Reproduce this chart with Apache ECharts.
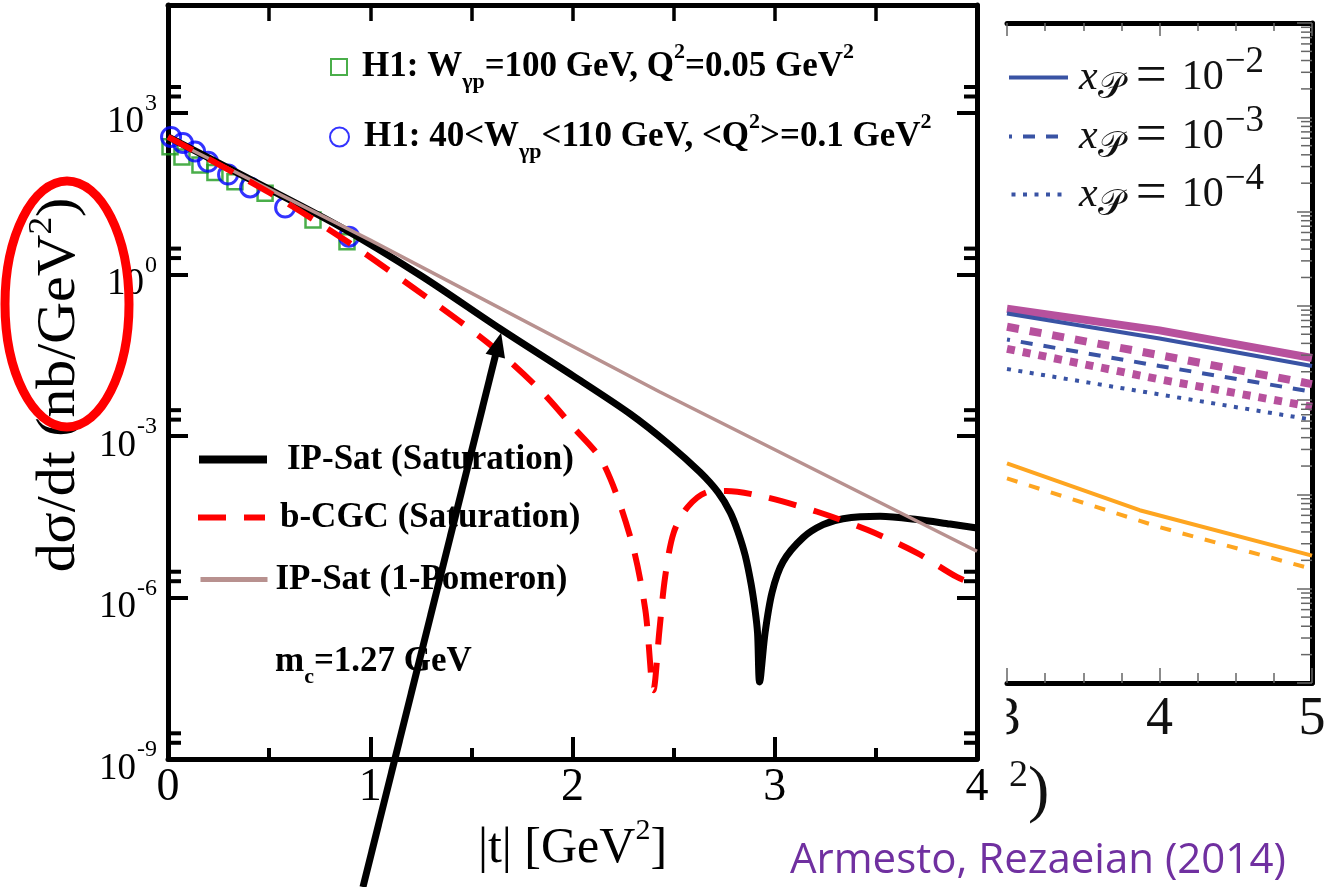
<!DOCTYPE html>
<html>
<head>
<meta charset="utf-8">
<script src="https://cdn.jsdelivr.net/npm/echarts@6/dist/echarts.min.js"></script>
<style>
  html, body { margin: 0; padding: 0; background: #fff; }
  #c { width: 1330px; height: 887px; }
</style>
</head>
<body>
<div id="c"></div>
<script>
// ---- exclusive J/psi photoproduction: d sigma / dt versus |t| ----
// H1 data, W = 100 GeV, Q^2 = 0.05 GeV^2
const h1aT     = [0.01, 0.069, 0.158, 0.232, 0.331, 0.48, 0.717, 0.885];
const h1aSigma = [234, 151, 107, 78, 52, 32, 10.2, 4.0];
// H1 data, 40 < W < 110 GeV, <Q^2> = 0.1 GeV^2
const h1bT     = [0.015, 0.074, 0.134, 0.198, 0.297, 0.406, 0.579, 0.895];
const h1bSigma = [355, 275, 190, 123, 71, 41, 17.4, 5.0];

// IP-Sat (Saturation)
const ipSatT     = [0, 0.43, 0.851, 1.251, 1.642, 2.003, 2.285, 2.483, 2.631, 2.72, 2.78, 2.819, 2.854, 2.883, 2.903, 2.915, 2.925, 2.952, 2.987, 3.041, 3.14, 3.239, 3.338, 3.521, 3.704, 3.867, 4.0];
const ipSatSigma = [358, 51.9, 7.63, 0.938, 0.0973, 0.0130, 2.56e-3, 6.67e-4, 2.10e-4, 8.9e-5, 3.8e-5, 1.62e-5, 6.0e-6, 1.78e-6, 5.7e-7, 2.18e-7, 2.7e-8, 2.18e-7, 1.26e-6, 4.6e-6, 1.29e-5, 2.24e-5, 2.9e-5, 3.2e-5, 2.8e-5, 2.3e-5, 1.95e-5];

// b-CGC (Saturation)
const bcgcT     = [0, 0.5, 0.85, 1.18, 1.58, 1.84, 2.0, 2.15, 2.29, 2.36, 2.40, 2.43, 2.458, 2.5, 2.57, 2.67, 2.76, 2.96, 3.21, 3.46, 3.7, 3.9, 4.0];
const bcgcSigma = [355, 33, 5.0, 0.69, 0.054, 0.0071, 1.5e-3, 3.2e-4, 1.17e-5, 5.9e-7, 1.9e-8, 2.5e-7, 2.4e-6, 1.58e-5, 4.8e-5, 9.1e-5, 9.5e-5, 7.2e-5, 3.9e-5, 1.78e-5, 6.8e-6, 2.4e-6, 1.7e-6];

// IP-Sat (1-Pomeron)
const pomT     = [0, 1.0, 2.43, 4.0];
const pomSigma = [340, 4.3, 6.6e-3, 7.2e-6];

// main-plot axis ticks
const tMainTicks    = [0, 1, 2, 3, 4];
const yMainLabelExp = [-9, -6, -3, 0, 3];
const yMainMinor    = [2e-9, 3e-9, 2e-6, 3e-6, 2e-3, 3e-3, 2, 3, 2e3, 3e3];

// ---- second panel: x_P dependence at large |t| ----
const tRight = [3, 4, 5];
const blueSolid   = [8.3e-4, 4.5e-4, 2.3e-4];
const blueDashed  = [4.4e-4, 2.3e-4, 1.23e-4];
const blueDotted  = [2.14e-4, 1.15e-4, 6.2e-5];
const pinkSolid   = [9.3e-4, 5.5e-4, 2.8e-4];
const pinkDashed  = [6.0e-4, 3.0e-4, 1.48e-4];
const pinkDotted  = [3.5e-4, 1.66e-4, 8.5e-5];
const orangeSolidT = [3, 3.87, 5];
const orangeSolid  = [2.14e-5, 6.8e-6, 2.24e-6];
const orangeDashed = [1.48e-5, 4.5e-6, 1.62e-6];
const xPExps = ['\u22122', '\u22123', '\u22124'];
const rightDecades = [1e-7, 1e-6, 1e-5, 1e-4, 1e-3, 1e-2, 1e-1];
const logMinorMultipliers = [2, 3, 4, 5, 6, 7, 8, 9];

// annotation arrow (data coordinates of tail and tip)
const arrowTail = [0.964, 4.2e-12];
const arrowTip  = [1.647, 0.0818];

const SERIF = "'Liberation Serif', 'Times New Roman', serif";
const zip = (xs, ys) => xs.map((x, i) => [x, ys[i]]);

const NAME_A = 'H1 W=100';
const NAME_B = 'H1 40<W<110';
const NAME_IPSAT = 'IP-Sat (Saturation)';
const NAME_BCGC = 'b-CGC (Saturation)';
const NAME_POM = 'IP-Sat (1-Pomeron)';
const NAME_X2 = 'xP=1e-2', NAME_X3 = 'xP=1e-3', NAME_X4 = 'xP=1e-4';

const boldTok = (pad) => ({ fontFamily: SERIF, fontWeight: 'bold', fontSize: 35, lineHeight: 40, color: '#000', padding: pad });
const boldRich = {
  b:  boldTok([0, 0, 0, 0]),
  bl: boldTok([0, 0, 0, 10]),
  p15: boldTok([0, 0, 0, 15]),
  p10: boldTok([0, 0, 0, 10]),
  p3: boldTok([0, 0, 0, 3]),
  sub:{ fontFamily: SERIF, fontWeight: 'bold', fontSize: 22, lineHeight: 24, color: '#000', padding: [30, 0, 0, 0] },
  sup:{ fontFamily: SERIF, fontWeight: 'bold', fontSize: 22, lineHeight: 24, color: '#000', padding: [0, 0, 30, 0] }
};

const mathRich = {
  i:  { fontFamily: SERIF, fontStyle: 'italic', fontSize: 42, lineHeight: 44, color: '#111', padding: [0, 0, 0, 6] },
  s:  { fontFamily: "'DejaVu Sans', 'DejaVu Serif', serif", fontSize: 36, lineHeight: 36, color: '#111', padding: [22, 0, 0, 0] },
  eq: { fontFamily: SERIF, fontSize: 55, lineHeight: 44, color: '#111', padding: [0, 15, 0, 12] },
  n:  { fontFamily: SERIF, fontSize: 42, lineHeight: 44, color: '#111' },
  e:  { fontFamily: SERIF, fontSize: 37, lineHeight: 34, color: '#111', padding: [0, 0, 30, 1] }
};
const xPLabel = k => '{i|x}{s|\ud835\udcab}{eq|=}{n|10}{e|' + xPExps[k] + '}';

const noSymbol = { color: 'rgba(0,0,0,0)', borderColor: 'rgba(0,0,0,0)', borderWidth: 0 };
const legendBase = { orient: 'horizontal', padding: 0, itemGap: 0, selectedMode: false };

function mainMinorTicks(params, api) {
  const v = api.value(1);
  const pL = api.coord([0, v]);
  const pR = api.coord([4, v]);
  const st = { stroke: '#000', lineWidth: 4 };
  return { type: 'group', children: [
    { type: 'line', shape: { x1: pL[0], y1: pL[1], x2: pL[0] + 13, y2: pL[1] }, style: st },
    { type: 'line', shape: { x1: pR[0], y1: pR[1], x2: pR[0] - 13, y2: pR[1] }, style: st }
  ]};
}
function rightMinorTicks(params, api) {
  const v = api.value(1);
  const p = api.coord([5, v]);
  return { type: 'line', shape: { x1: p[0], y1: p[1], x2: p[0] - 11, y2: p[1] }, style: { stroke: '#666', lineWidth: 1.5 } };
}
const rightMinorData = [];
rightDecades.forEach(d => logMinorMultipliers.forEach(m => rightMinorData.push([5, d * m])));

const blue = '#3953a4', pink = '#b7519d', orange = '#fea520';

const option = {
  backgroundColor: '#fff',
  animation: false,
  grid: [
    { left: 168, top: 5, width: 809, height: 754 },
    { left: 1007, top: 23, width: 305, height: 660 }
  ],
  xAxis: [
    { gridIndex: 0, type: 'value', min: 0, max: 4, interval: 1, position: 'bottom',
      axisLine: { onZero: false, lineStyle: { color: '#000', width: 5 } },
      axisTick: { inside: true, length: 22, lineStyle: { color: '#000', width: 4 } },
      minorTick: { show: true, splitNumber: 2, length: 11, lineStyle: { color: '#000', width: 4 } },
      splitLine: { show: false },
      axisLabel: { fontFamily: SERIF, fontSize: 46, color: '#000', margin: 6,
        formatter: v => (tMainTicks.indexOf(v) >= 0 ? String(v) : '') },
      name: '{b||t| [GeV}{s|2}{b|]}', nameLocation: 'middle', nameGap: 52,
      nameTextStyle: { rich: {
        b: { fontFamily: SERIF, fontSize: 50, lineHeight: 52, color: '#000' },
        s: { fontFamily: SERIF, fontSize: 30, lineHeight: 30, color: '#000', padding: [0, 0, 36, 0] } } } },
    { gridIndex: 0, type: 'value', min: 0, max: 4, interval: 0.5, position: 'top',
      axisLine: { onZero: false, lineStyle: { color: '#000', width: 5 } },
      axisTick: { inside: true, length: 16, lineStyle: { color: '#000', width: 3.5 } },
      axisLabel: { show: false }, splitLine: { show: false } },
    { gridIndex: 1, type: 'value', min: 3, max: 5, interval: 1, position: 'bottom',
      axisLine: { onZero: false, lineStyle: { color: '#000', width: 5 } },
      axisTick: { inside: true, length: 15, lineStyle: { color: '#666', width: 1.5 } },
      minorTick: { show: true, splitNumber: 4, length: 10, lineStyle: { color: '#666', width: 1.5 } },
      axisLabel: { fontFamily: SERIF, fontSize: 54, color: '#111', margin: 10 },
      splitLine: { show: false } },
    { gridIndex: 1, type: 'value', min: 3, max: 5, interval: 1, position: 'top',
      axisLine: { onZero: false, lineStyle: { color: '#000', width: 5 } },
      axisTick: { inside: true, length: 13, lineStyle: { color: '#666', width: 1.5 } },
      minorTick: { show: true, splitNumber: 4, length: 8, lineStyle: { color: '#666', width: 1.5 } },
      axisLabel: { show: false }, splitLine: { show: false } }
  ],
  yAxis: [
    { gridIndex: 0, type: 'log', logBase: 10, min: 1e-9, max: 1e5, interval: 3, position: 'left',
      axisLine: { onZero: false, lineStyle: { color: '#000', width: 5 } },
      axisTick: { inside: true, length: 20, lineStyle: { color: '#000', width: 4 } },
      splitLine: { show: false },
      axisLabel: { margin: 11, padding: [20, 0, 0, 0],
        formatter: v => {
          const l = Math.log10(v), e = Math.round(l);
          return (Math.abs(l - e) < 1e-6 && yMainLabelExp.indexOf(e) >= 0) ? '{b|10}{e|' + e + '}' : '';
        },
        rich: {
          b: { fontFamily: SERIF, fontSize: 37, lineHeight: 36, color: '#000' },
          e: { fontFamily: SERIF, fontSize: 24, lineHeight: 24, color: '#000', padding: [0, 0, 38, 1] }
        } } },
    { gridIndex: 0, type: 'log', logBase: 10, min: 1e-9, max: 1e5, interval: 3, position: 'right',
      axisLine: { onZero: false, lineStyle: { color: '#000', width: 5 } },
      axisTick: { inside: true, length: 20, lineStyle: { color: '#000', width: 4 } },
      axisLabel: { show: false }, splitLine: { show: false } },
    { gridIndex: 1, type: 'log', logBase: 10, min: 1e-7, max: 1, interval: 1, position: 'right',
      axisLine: { onZero: false, lineStyle: { color: '#000', width: 5 } },
      axisTick: { inside: true, length: 15, lineStyle: { color: '#666', width: 1.5 } },
      axisLabel: { show: false }, splitLine: { show: false } }
  ],
  legend: [
    Object.assign({}, legendBase, { data: [NAME_A], left: 330, top: 41, itemWidth: 16, itemHeight: 16,
      formatter: () => '{bl|H1: W}{sub|\u03b3p}{b|=100 GeV, Q}{sup|2}{b|=0.05 GeV}{sup|2}',
      textStyle: { rich: boldRich } }),
    Object.assign({}, legendBase, { data: [NAME_B], left: 329, top: 111, itemWidth: 19, itemHeight: 19,
      formatter: () => '{bl|H1: 40<W}{sub|\u03b3p}{b|<110 GeV, <Q}{sup|2}{b|>=0.1 GeV}{sup|2}',
      textStyle: { rich: boldRich } }),
    Object.assign({}, legendBase, { data: [NAME_IPSAT], left: 195, top: 442, itemWidth: 68, itemHeight: 14,
      itemStyle: noSymbol, lineStyle: { width: 8 },
      formatter: n => '{p15|' + n + '}', textStyle: { rich: boldRich } }),
    Object.assign({}, legendBase, { data: [NAME_BCGC], left: 195, top: 500, itemWidth: 67, itemHeight: 14,
      itemStyle: noSymbol, lineStyle: { width: 6 },
      formatter: n => '{p10|' + n + '}', textStyle: { rich: boldRich } }),
    Object.assign({}, legendBase, { data: [NAME_POM], left: 198, top: 562, itemWidth: 67, itemHeight: 14,
      itemStyle: noSymbol, lineStyle: { width: 5 },
      formatter: n => '{p3|' + n + '}', textStyle: { rich: boldRich } }),
    Object.assign({}, legendBase, { data: [NAME_X2], left: 1007, top: 44, itemWidth: 59, itemHeight: 10,
      itemStyle: noSymbol, lineStyle: { width: 4 },
      formatter: () => xPLabel(0), textStyle: { rich: mathRich } }),
    Object.assign({}, legendBase, { data: [NAME_X3], left: 1007, top: 103, itemWidth: 59, itemHeight: 10,
      itemStyle: noSymbol, lineStyle: { width: 4 },
      formatter: () => xPLabel(1), textStyle: { rich: mathRich } }),
    Object.assign({}, legendBase, { data: [NAME_X4], left: 1007, top: 161, itemWidth: 59, itemHeight: 10,
      itemStyle: noSymbol, lineStyle: { width: 4 },
      formatter: () => xPLabel(2), textStyle: { rich: mathRich } })
  ],
  series: [
    { name: NAME_A, type: 'scatter', xAxisIndex: 0, yAxisIndex: 0, symbol: 'rect', symbolSize: 15,
      itemStyle: { color: 'rgba(255,255,255,0)', borderColor: '#1d9a1d', borderWidth: 2.5 },
      data: zip(h1aT, h1aSigma), z: 2 },
    { name: NAME_B, type: 'scatter', xAxisIndex: 0, yAxisIndex: 0, symbol: 'circle', symbolSize: 19,
      itemStyle: { color: 'rgba(255,255,255,0)', borderColor: '#0000ff', borderWidth: 3 },
      data: zip(h1bT, h1bSigma), z: 2 },
    { name: NAME_IPSAT, type: 'line', xAxisIndex: 0, yAxisIndex: 0, symbol: 'none', smooth: 0.3,
      lineStyle: { color: '#000', width: 7 }, itemStyle: { color: '#000' },
      data: zip(ipSatT, ipSatSigma), z: 3 },
    { name: NAME_POM, type: 'line', xAxisIndex: 0, yAxisIndex: 0, symbol: 'none',
      lineStyle: { color: '#b8918f', width: 3.5 }, itemStyle: { color: '#b8918f' },
      data: zip(pomT, pomSigma), z: 3 },
    { name: NAME_BCGC, type: 'line', xAxisIndex: 0, yAxisIndex: 0, symbol: 'none', smooth: 0.3,
      lineStyle: { color: '#ff0000', width: 6, type: [28, 18] }, itemStyle: { color: '#ff0000' },
      data: zip(bcgcT, bcgcSigma), z: 3 },
    { type: 'custom', xAxisIndex: 0, yAxisIndex: 0, renderItem: mainMinorTicks, silent: true, clip: false,
      data: yMainMinor.map(v => [0, v]), z: 4 },

    { name: 'pink 1e-2', type: 'line', xAxisIndex: 2, yAxisIndex: 2, symbol: 'none',
      lineStyle: { color: pink, width: 8 }, data: zip(tRight, pinkSolid) },
    { name: NAME_X2, type: 'line', xAxisIndex: 2, yAxisIndex: 2, symbol: 'none',
      lineStyle: { color: blue, width: 4 }, itemStyle: { color: blue }, data: zip(tRight, blueSolid) },
    { name: 'pink 1e-3', type: 'line', xAxisIndex: 2, yAxisIndex: 2, symbol: 'none',
      lineStyle: { color: pink, width: 8, type: [12, 11] }, data: zip(tRight, pinkDashed) },
    { name: NAME_X3, type: 'line', xAxisIndex: 2, yAxisIndex: 2, symbol: 'none',
      lineStyle: { color: blue, width: 4, type: [12, 11], dashOffset: 9 }, itemStyle: { color: blue }, data: zip(tRight, blueDashed) },
    { name: 'pink 1e-4', type: 'line', xAxisIndex: 2, yAxisIndex: 2, symbol: 'none',
      lineStyle: { color: pink, width: 8, type: [8, 8] }, data: zip(tRight, pinkDotted) },
    { name: NAME_X4, type: 'line', xAxisIndex: 2, yAxisIndex: 2, symbol: 'none',
      lineStyle: { color: blue, width: 4, type: [4, 7.5] }, itemStyle: { color: blue }, data: zip(tRight, blueDotted) },
    { name: 'orange solid', type: 'line', xAxisIndex: 2, yAxisIndex: 2, symbol: 'none',
      lineStyle: { color: orange, width: 4 }, data: zip(orangeSolidT, orangeSolid) },
    { name: 'orange dashed', type: 'line', xAxisIndex: 2, yAxisIndex: 2, symbol: 'none',
      lineStyle: { color: orange, width: 4, type: [11, 12] }, data: zip(tRight, orangeDashed) },
    { type: 'custom', xAxisIndex: 2, yAxisIndex: 2, renderItem: rightMinorTicks, silent: true, clip: false,
      data: rightMinorData, z: 4 }
  ]
};

const chart = echarts.init(document.getElementById('c'));
chart.setOption(option);

// overlays: y-axis title, note, arrow, highlight ring, credit line
const tip = chart.convertToPixel({ xAxisIndex: 0, yAxisIndex: 0 }, arrowTip);
const tail = chart.convertToPixel({ xAxisIndex: 0, yAxisIndex: 0 }, arrowTail);
const dx = tip[0] - tail[0], dy = tip[1] - tail[1];
const len = Math.sqrt(dx * dx + dy * dy), ux = dx / len, uy = dy / len;
const headLen = 24, headHalf = 10;
const base = [tip[0] - ux * headLen, tip[1] - uy * headLen];

chart.setOption({
  graphic: [
    { type: 'text', x: 60, y: 385, rotation: Math.PI / 2, scaleX: 1.07, z: 50,
      style: { text: '{t|d\u03c3/dt (nb/GeV}{s|2}{t|)}', align: 'center', verticalAlign: 'middle',
        rich: {
          t: { fontFamily: SERIF, fontSize: 54, lineHeight: 56, fill: '#000' },
          s: { fontFamily: SERIF, fontSize: 33, lineHeight: 33, fill: '#000', padding: [0, 0, 36, 0] }
        } } },
    { type: 'text', x: 275, y: 662, z: 50,
      style: { text: '{b|m}{sub|c}{b|=1.27 GeV}', verticalAlign: 'middle', rich: boldRich } },
    { type: 'ellipse', z: 60, shape: { cx: 67, cy: 304, rx: 62, ry: 123 },
      style: { fill: 'none', stroke: '#ff0000', lineWidth: 9 } },
    { type: 'line', z: 70, shape: { x1: tail[0], y1: tail[1], x2: base[0] + ux * 2, y2: base[1] + uy * 2 },
      style: { stroke: '#000', lineWidth: 7 } },
    { type: 'polygon', z: 70,
      shape: { points: [tip, [base[0] - uy * headHalf, base[1] + ux * headHalf], [base[0] + uy * headHalf, base[1] - ux * headHalf]] },
      style: { fill: '#000' } },
    { type: 'rect', z: 80, shape: { x: 984, y: 690, width: 22.5, height: 60 }, style: { fill: '#fff' } },
    { type: 'text', x: 1009, y: 758, z: 50,
      style: { text: '{s|2}{p|)}', rich: {
        s: { fontFamily: SERIF, fontSize: 38, lineHeight: 40, fill: '#111', padding: [0, 0, 34, 0] },
        p: { fontFamily: SERIF, fontSize: 64, lineHeight: 70, fill: '#111' } } } },
    { type: 'text', x: 790, y: 861, z: 50,
      style: { text: 'Armesto, Rezaeian (2014)', verticalAlign: 'middle',
        font: "42px 'Open Sans', sans-serif", fill: '#7030a0' } }
  ]
});
</script>
</body>
</html>
